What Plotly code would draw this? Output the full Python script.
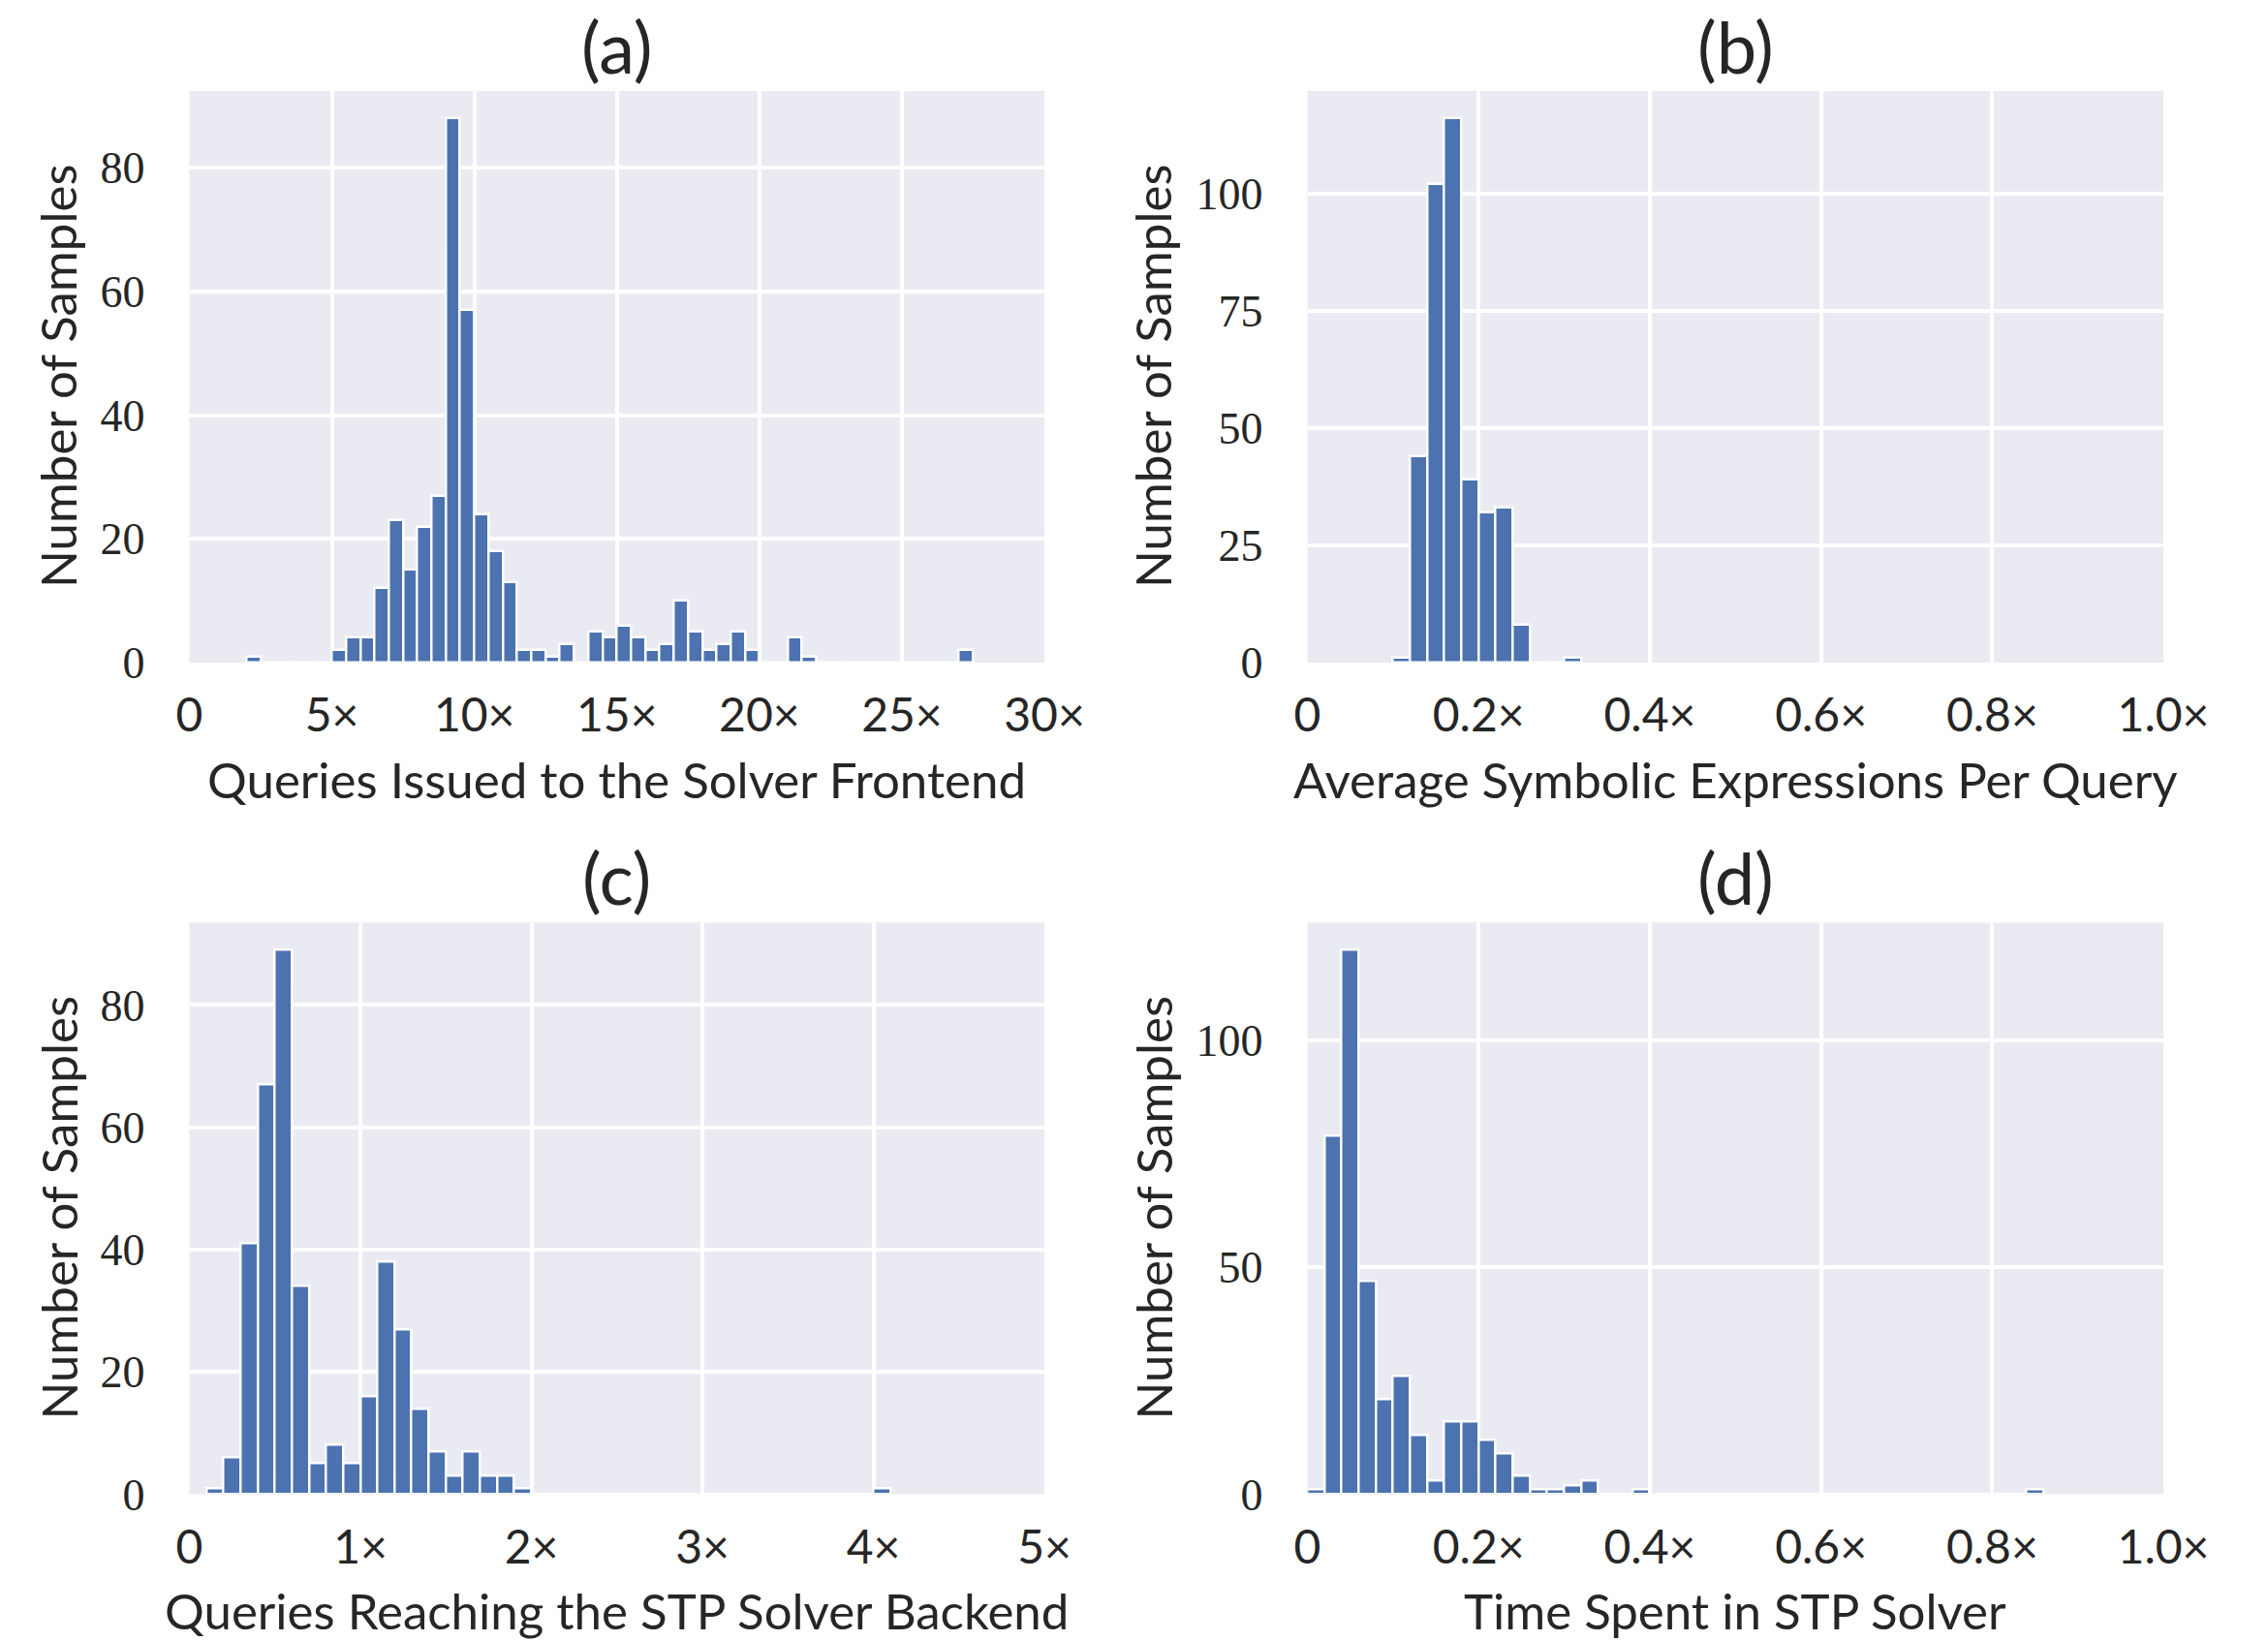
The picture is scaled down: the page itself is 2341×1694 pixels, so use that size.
import plotly.graph_objects as go

# ---------------- data ----------------
# (a) Queries Issued to the Solver Frontend: bins of 0.5 starting at 2.0
a_bin_start = 2.0
a_bin_width = 0.5
a_counts = [1, 0, 0, 0, 0, 0,
            2, 4, 4, 12, 23, 15, 22, 27, 88, 57, 24, 18, 13, 2, 2, 1, 3, 0,
            5, 4, 6, 4, 2, 3, 10, 5, 2, 3, 5, 2, 0, 0, 4, 1,
            0, 0, 0, 0, 0, 0, 0, 0, 0, 0, 2]

# (b) Average Symbolic Expressions Per Query: bins of 0.02 starting at 0.10
b_bin_start = 0.10
b_bin_width = 0.02
b_counts = [1, 44, 102, 116, 39, 32, 33, 8, 0, 0, 1]

# (c) Queries Reaching the STP Solver Backend: bins of 0.1 starting at 0.1
c_bin_start = 0.1
c_bin_width = 0.1
c_counts = [1, 6, 41, 67, 89, 34, 5, 8, 5, 16, 38, 27, 14, 7, 3, 7, 3, 3, 1,
            0, 0, 0, 0, 0, 0, 0, 0, 0, 0, 0, 0, 0, 0, 0, 0, 0, 0, 0, 0, 1]

# (d) Time Spent in STP Solver: bins of 0.02 starting at 0.0
d_bin_start = 0.0
d_bin_width = 0.02
d_counts = [1, 79, 120, 47, 21, 26, 13, 3, 16, 16, 12, 9, 4, 1, 1, 2, 3, 0, 0, 1,
            0, 0, 0, 0, 0, 0, 0, 0, 0, 0, 0, 0, 0, 0, 0, 0, 0, 0, 0, 0, 0, 0, 1]

panel_titles = ["(a)", "(b)", "(c)", "(d)"]
x_titles = ["Queries Issued to the Solver Frontend",
            "Average Symbolic Expressions Per Query",
            "Queries Reaching the STP Solver Backend",
            "Time Spent in STP Solver"]
y_title = "Number of Samples"

a_xticks = [0, 5, 10, 15, 20, 25, 30]
a_xlabels = ["0", "5×", "10×", "15×", "20×", "25×", "30×"]
b_xticks = [0, 0.2, 0.4, 0.6, 0.8, 1.0]
b_xlabels = ["0", "0.2×", "0.4×", "0.6×", "0.8×", "1.0×"]
c_xticks = [0, 1, 2, 3, 4, 5]
c_xlabels = ["0", "1×", "2×", "3×", "4×", "5×"]
d_xticks = b_xticks
d_xlabels = b_xlabels

a_yticks = [0, 20, 40, 60, 80]
b_yticks = [0, 25, 50, 75, 100]
c_yticks = [0, 20, 40, 60, 80]
d_yticks = [0, 50, 100]

# ---------------- styling ----------------
W, H = 2341, 1694
BAR = "#4C72B0"
BG = "#EAEAF2"
SANS = "Lato"
SERIF = "Liberation Serif"
TXT = "#262626"

# pixel layout of the four plot areas (left, right, top, bottom)
boxes = [(195.5, 1078, 94, 684),
         (1349.5, 2233, 94, 684),
         (195.5, 1078, 952.5, 1542.5),
         (1349.5, 2233, 952.5, 1542.5)]
ytitle_x = [60, 1190, 60, 1190]

panels = [
    (a_bin_start, a_bin_width, a_counts, [0, 30], a_xticks, a_xlabels, a_yticks),
    (b_bin_start, b_bin_width, b_counts, [0, 1.0], b_xticks, b_xlabels, b_yticks),
    (c_bin_start, c_bin_width, c_counts, [0, 5], c_xticks, c_xlabels, c_yticks),
    (d_bin_start, d_bin_width, d_counts, [0, 1.0], d_xticks, d_xlabels, d_yticks),
]

fig = go.Figure()
layout = dict(
    width=W, height=H,
    margin=dict(l=0, r=0, t=0, b=0, autoexpand=False),
    paper_bgcolor="white",
    plot_bgcolor=BG,
    showlegend=False,
    bargap=0,
)
annotations = []

for i, (start, width, counts, xr, xt, xl, yt) in enumerate(panels):
    n = i + 1
    sfx = "" if n == 1 else str(n)
    centers = [start + width * (k + 0.5) for k in range(len(counts))]
    fig.add_trace(go.Bar(
        x=centers, y=counts, width=width,
        marker=dict(color=BAR, line=dict(color="white", width=2.5)),
        xaxis="x" + sfx, yaxis="y" + sfx,
        hoverinfo="x+y",
    ))
    l, r, t, b = boxes[i]
    ymax = max(counts) * 1.05
    layout["xaxis" + sfx] = dict(
        domain=[l / W, r / W], anchor="y" + sfx, range=xr,
        tickvals=xt, ticktext=xl, showgrid=True, gridcolor="white",
        gridwidth=3.5, zeroline=False, showline=False, ticks="",
        automargin=False,
        tickfont=dict(family=SANS, size=48, color=TXT),
        ticklabelstandoff=22,
    )
    layout["yaxis" + sfx] = dict(
        domain=[1 - b / H, 1 - t / H], anchor="x" + sfx, range=[0, ymax],
        tickvals=yt, showgrid=True, gridcolor="white", gridwidth=3.5,
        zeroline=False, showline=False, ticks="",
        automargin=False,
        tickfont=dict(family=SERIF, size=46, color=TXT),
        ticklabelstandoff=45,
    )
    cx = (l + r) / 2
    # panel title
    annotations.append(dict(
        text=panel_titles[i], x=cx / W, y=1 - (t - 47) / H,
        xref="paper", yref="paper", xanchor="center", yanchor="middle",
        showarrow=False, font=dict(family=SANS, size=74, color=TXT)))
    # x axis title
    annotations.append(dict(
        text=x_titles[i], x=cx / W, y=1 - (b + 120) / H,
        xref="paper", yref="paper", xanchor="center", yanchor="middle",
        showarrow=False, font=dict(family=SANS, size=51, color=TXT)))
    # y axis title
    annotations.append(dict(
        text=y_title, x=ytitle_x[i] / W, y=1 - ((t + b) / 2) / H,
        xref="paper", yref="paper", xanchor="center", yanchor="middle",
        textangle=-90, showarrow=False,
        font=dict(family=SANS, size=51, color=TXT)))

layout["annotations"] = annotations
fig.update_layout(**layout)
fig.write_html("out.html",
               config={"displayModeBar": False},
               post_script="document.body.style.margin='0';"
                           "document.body.style.overflow='hidden';")
